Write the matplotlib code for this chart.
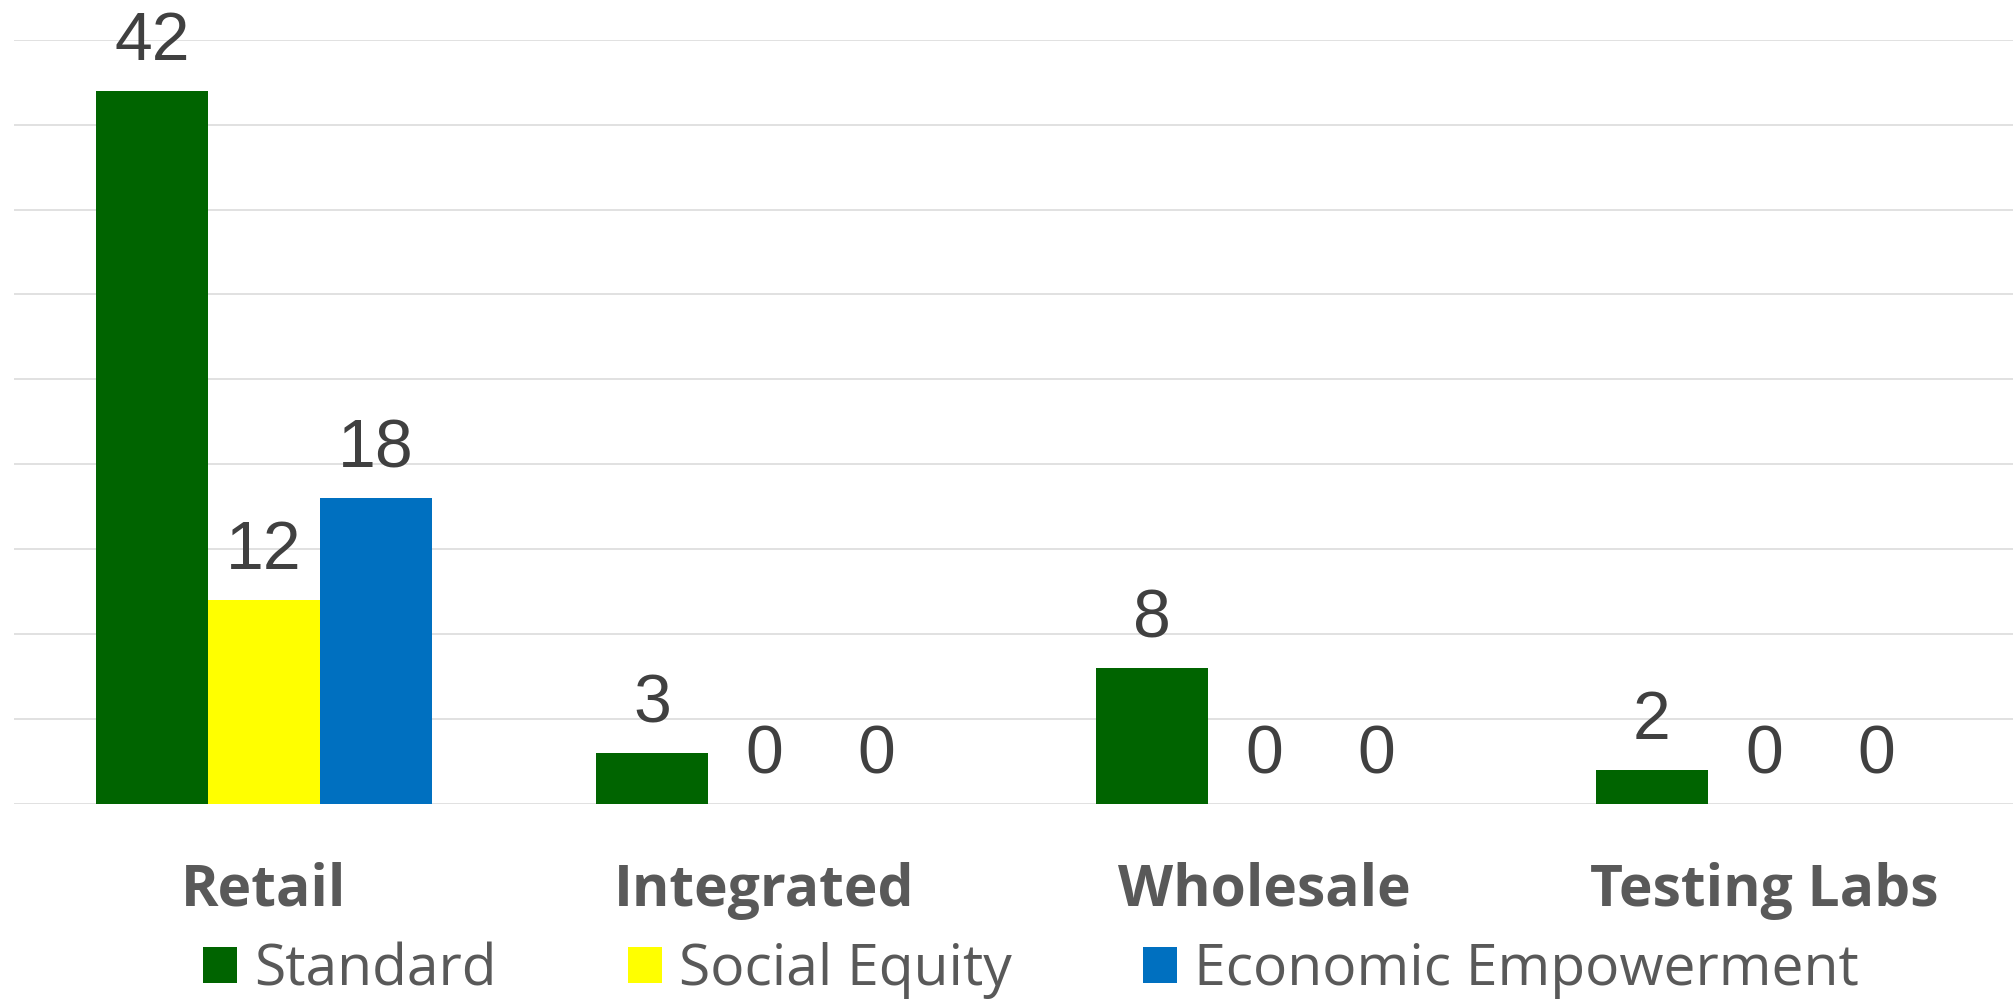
import numpy as np
import matplotlib.pyplot as plt
from matplotlib.patches import Patch
from matplotlib.transforms import blended_transform_factory

# chart data
categories = ['Retail', 'Integrated', 'Wholesale', 'Testing Labs']
series_names = ['Standard', 'Social Equity', 'Economic Empowerment']
standard = [42, 3, 8, 2]
social_equity = [12, 0, 0, 0]
economic_empowerment = [18, 0, 0, 0]
colors = ['#006400', '#FFFF00', '#0070C0']

fig = plt.figure(figsize=(20.13, 9.99), dpi=100)
ax = fig.add_axes([0.00695, 0.1956, 0.9935, 0.7646])

x = np.arange(len(categories))
width = 0.224
all_values = [standard, social_equity, economic_empowerment]

for i, (vals, name, col) in enumerate(zip(all_values, series_names, colors)):
    pos = x + (i - 1) * width
    ax.bar(pos, vals, width, color=col, label=name, zorder=2)
    for px, v in zip(pos, vals):
        ax.annotate(str(v), (px, v), xytext=(0, 22), textcoords='offset points',
                    ha='center', va='baseline', fontsize=49,
                    family='Liberation Sans', color='#404040')

ax.set_xlim(-0.5, 3.5)
ax.set_ylim(0, 45)
ax.set_yticks(np.arange(0, 46, 5))
ax.yaxis.grid(True, color='#D9D9D9', linewidth=1.1)
ax.set_axisbelow(True)
ax.tick_params(left=False, bottom=False, labelleft=False, labelbottom=False)
for s in ax.spines.values():
    s.set_visible(False)

# category labels under the groups
trans = blended_transform_factory(ax.transData, fig.transFigure)
for xi, cat in zip(x, categories):
    ax.text(xi, 1 - 906 / 999, cat, transform=trans, ha='center', va='baseline',
            fontsize=41, fontweight='bold', family='Open Sans', color='#595959')

handles = [Patch(facecolor=c, label=n) for c, n in zip(colors, series_names)]
fig.legend(handles=handles, loc='lower center', bbox_to_anchor=(1031 / 2013, 0.0),
           ncol=3, frameon=False, prop={'family': 'Open Sans', 'size': 41},
           labelcolor='#595959', handlelength=0.6, handleheight=0.6,
           handletextpad=0.3, columnspacing=2.3, borderpad=0, borderaxespad=0)

fig.savefig('out.png', dpi=100)
